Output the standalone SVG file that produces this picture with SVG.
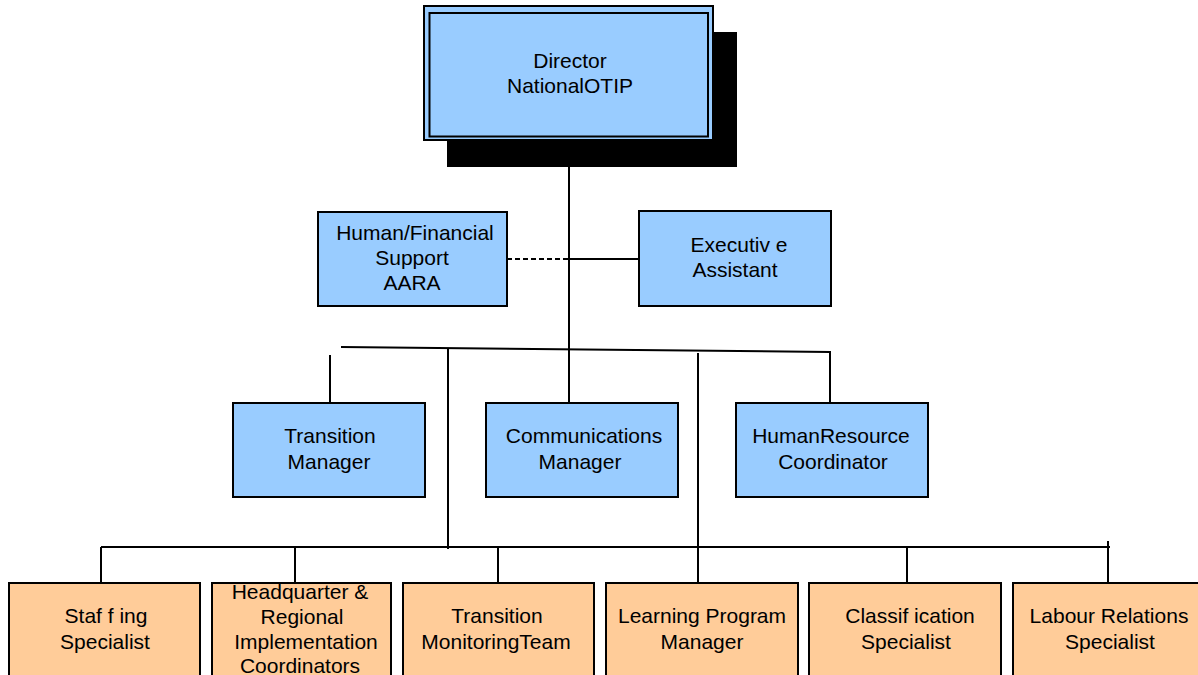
<svg xmlns="http://www.w3.org/2000/svg" width="1198" height="675" viewBox="0 0 1198 675">
<style>
.b{fill:#99CCFF;stroke:#000;stroke-width:2}
.o{fill:#FFCC99;stroke:#000;stroke-width:2}
.t{font-family:"Liberation Sans",Arial,sans-serif;font-size:21px;fill:#000;text-anchor:middle}
.c{stroke:#000;stroke-width:2;fill:none}
</style>
<rect width="1198" height="675" fill="#fff"/>
<g id="connectors">
<line class="c" x1="569" y1="167" x2="569" y2="403"/>
<line class="c" x1="507" y1="259" x2="569" y2="259" stroke-dasharray="5,3"/>
<line class="c" x1="569" y1="259" x2="639" y2="259"/>
<polyline class="c" points="341,347 830,352 830,403"/>
<line class="c" x1="330" y1="355" x2="330" y2="403"/>
<line class="c" x1="448" y1="348" x2="448" y2="549"/>
<line class="c" x1="698" y1="353" x2="698" y2="583"/>
<line class="c" x1="101" y1="547" x2="1110" y2="547"/>
<line class="c" x1="101" y1="547" x2="101" y2="583"/>
<line class="c" x1="295" y1="547" x2="295" y2="583"/>
<line class="c" x1="498" y1="547" x2="498" y2="583"/>
<line class="c" x1="907" y1="547" x2="907" y2="583"/>
<line class="c" x1="1108" y1="541" x2="1108" y2="583"/>
</g>
<g id="director">
<rect x="447" y="32" width="290" height="135" fill="#000"/>
<rect class="b" x="424" y="6" width="289" height="134"/>
<rect x="429.5" y="13" width="278.5" height="123.5" fill="none" stroke="#000" stroke-width="2"/>
<text class="t" x="570" y="68">Director</text>
<text class="t" x="570" y="93">NationalOTIP</text>
</g>
<g id="hfs">
<rect class="b" x="318" y="212" width="189" height="94"/>
<text class="t" x="415" y="240">Human/Financial</text>
<text class="t" x="412" y="265">Support</text>
<text class="t" x="412" y="290">AARA</text>
</g>
<g id="exec">
<rect class="b" x="639" y="211" width="192" height="95"/>
<text class="t" x="739" y="252">Executiv e</text>
<text class="t" x="735" y="277">Assistant</text>
</g>
<g id="tm">
<rect class="b" x="233" y="403" width="192" height="94"/>
<text class="t" x="330" y="443">Transition</text>
<text class="t" x="329" y="469">Manager</text>
</g>
<g id="cm">
<rect class="b" x="486" y="403" width="192" height="94"/>
<text class="t" x="584" y="443">Communications</text>
<text class="t" x="580" y="469">Manager</text>
</g>
<g id="hr">
<rect class="b" x="736" y="403" width="192" height="94"/>
<text class="t" x="831" y="443">HumanResource</text>
<text class="t" x="833" y="469">Coordinator</text>
</g>
<g id="staffing">
<rect class="o" x="9" y="583" width="191" height="110"/>
<text class="t" x="106" y="623">Staf f ing</text>
<text class="t" x="105" y="649">Specialist</text>
</g>
<g id="hq">
<rect class="o" x="212" y="583" width="179" height="110"/>
<text class="t" x="300" y="599">Headquarter &amp;</text>
<text class="t" x="302" y="624">Regional</text>
<text class="t" x="306" y="649">Implementation</text>
<text class="t" x="300" y="673">Coordinators</text>
</g>
<g id="tmt">
<rect class="o" x="403" y="583" width="191" height="110"/>
<text class="t" x="497" y="623">Transition</text>
<text class="t" x="496" y="649">MonitoringTeam</text>
</g>
<g id="lpm">
<rect class="o" x="606" y="583" width="192" height="110"/>
<text class="t" x="702" y="623">Learning Program</text>
<text class="t" x="702" y="649">Manager</text>
</g>
<g id="cls">
<rect class="o" x="809" y="583" width="192" height="110"/>
<text class="t" x="910" y="623">Classif ication</text>
<text class="t" x="906" y="649">Specialist</text>
</g>
<g id="lr">
<rect class="o" x="1013" y="583" width="200" height="110"/>
<text class="t" x="1109" y="623">Labour Relations</text>
<text class="t" x="1110" y="649">Specialist</text>
</g>
</svg>
